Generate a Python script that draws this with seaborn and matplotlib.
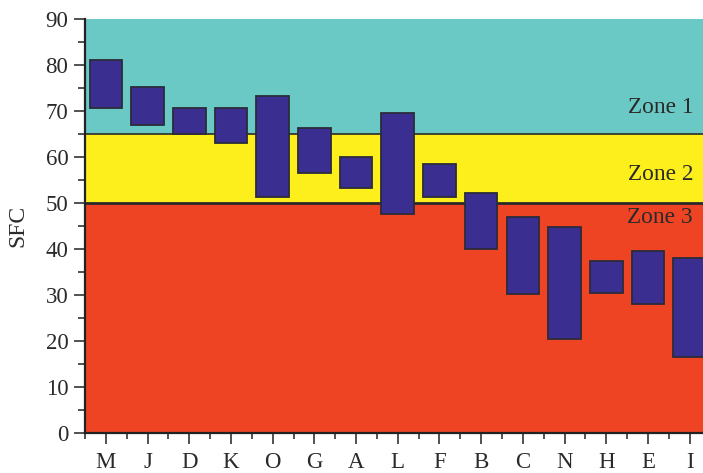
import matplotlib
matplotlib.use("Agg")
import matplotlib.pyplot as plt
from matplotlib.ticker import MultipleLocator
import matplotlib.transforms as mtrans
import seaborn as sns
import pandas as pd
import numpy as np

categories = ["M", "J", "D", "K", "O", "G", "A", "L", "F", "B", "C", "N", "H", "E", "I"]
low_vals = [70.6, 67.0, 65.0, 63.0, 51.4, 56.5, 53.3, 47.5, 51.4, 39.9, 30.2, 20.4, 30.5, 28.0, 16.5]
high_vals = [81.1, 75.2, 70.6, 70.6, 73.3, 66.4, 60.0, 69.5, 58.4, 52.1, 46.9, 44.8, 37.5, 39.6, 38.1]
zone_names = ["Zone 1", "Zone 2", "Zone 3"]
zone_bounds = [90, 65, 50, 0]
zone_label_y = [70.7, 56.2, 46.9]

sns.set_theme(style="ticks")
plt.rcParams["font.family"] = ["Liberation Serif", "DejaVu Serif"]

df = pd.DataFrame({"cat": categories, "low": low_vals, "high": high_vals})
df["span"] = df["high"] - df["low"]

fig = plt.figure(figsize=(7.03, 4.73), dpi=100)
ax = fig.add_axes([85 / 703, 40 / 473, 618 / 703, 414 / 473])

zone_colors = ["#6BC9C5", "#FCEF1C", "#EE4424"]
for i in range(3):
    ax.axhspan(zone_bounds[i + 1], zone_bounds[i], color=zone_colors[i], zorder=0, lw=0)
ax.axhline(65, color="#2a2a2a", lw=1.2, zorder=1)
ax.axhline(50, color="#2a2a2a", lw=2.0, zorder=1)

sns.barplot(data=df, x="cat", y="span", bottom=df["low"].values, color="#3A2F90",
            saturation=1, width=0.78, edgecolor="#2b2b3a", linewidth=1.3, ax=ax, zorder=3)

tr = mtrans.blended_transform_factory(mtrans.IdentityTransform(), ax.transData)
for name, y in zip(zone_names, zone_label_y):
    ax.text(693, y, name, transform=tr, ha="right", va="center",
            fontsize=16.8, color="#2a2a2a", zorder=5)

ax.set_ylim(0, 90)
ax.set_xlim(-0.5, 14.32)
ax.yaxis.set_major_locator(MultipleLocator(10))
ax.yaxis.set_minor_locator(MultipleLocator(5))
ax.set_xticks(np.arange(len(categories)))
ax.set_xticks(np.arange(len(categories)) - 0.5, minor=True)
ax.set_xticklabels(categories)
ax.tick_params(axis="both", which="major", direction="out", length=8, width=1.2,
               color="#333333", labelsize=16.5, labelcolor="#2a2a2a", pad=4)
ax.tick_params(axis="both", which="minor", direction="out", length=5, width=1.2, color="#333333")
ax.tick_params(axis="x", which="major", pad=6)
ax.tick_params(axis="x", which="minor", length=4)
ax.set_ylabel("SFC", fontsize=17, color="#2a2a2a")
ax.yaxis.set_label_coords(-0.091, 0.5)
ax.set_xlabel("")
for s in ["top", "right"]:
    ax.spines[s].set_visible(False)
for s in ["left", "bottom"]:
    ax.spines[s].set_linewidth(1.6)
    ax.spines[s].set_color("#222222")
    ax.spines[s].set_zorder(6)
ax.grid(False)

fig.savefig("out.png", dpi=100)
